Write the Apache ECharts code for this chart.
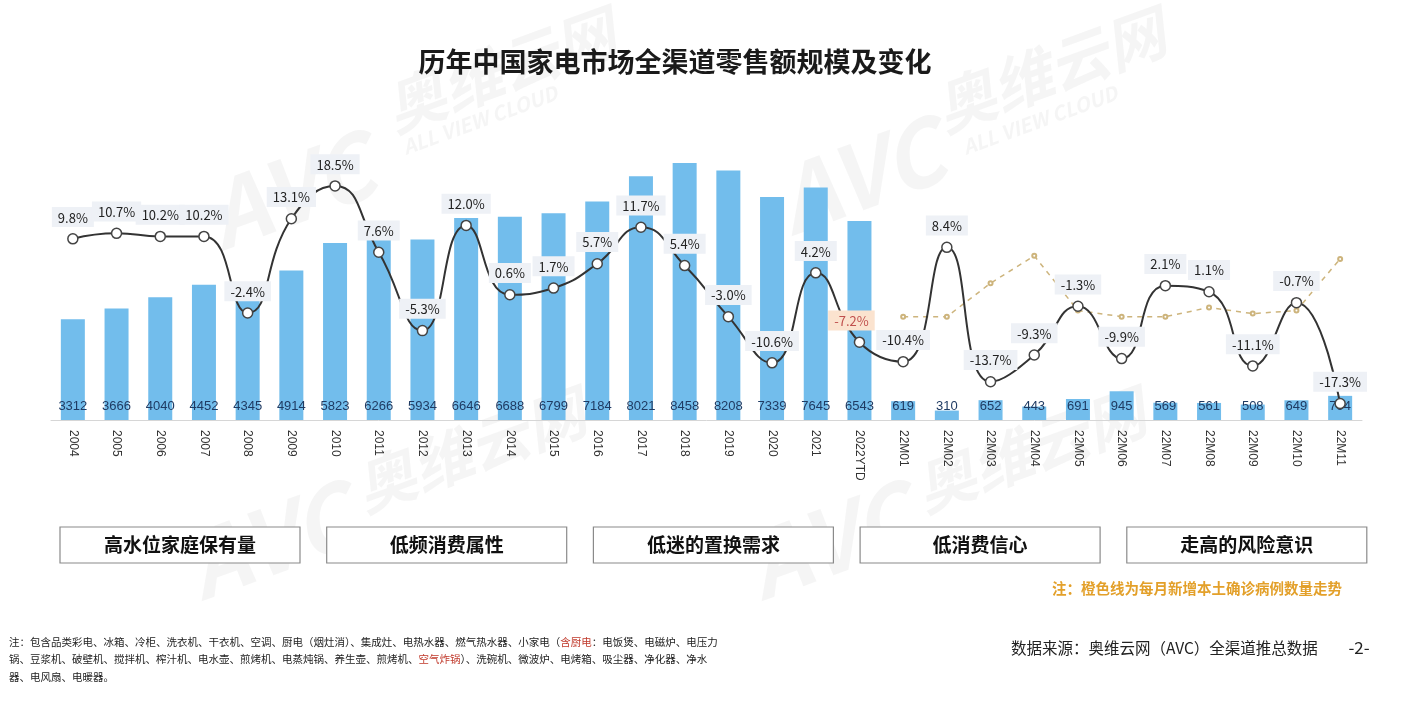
<!DOCTYPE html>
<html><head><meta charset="utf-8">
<script src="https://cdn.jsdelivr.net/npm/echarts@6/dist/echarts.min.js"></script>
<style>html,body{margin:0;padding:0;background:#fff}#c{width:1412px;height:704px}</style>
</head><body><div id="c"></div>
<script>
const categories = ['2004','2005','2006','2007','2008','2009','2010','2011','2012','2013','2014','2015','2016','2017','2018','2019','2020','2021','2022YTD',
  '22M01','22M02','22M03','22M04','22M05','22M06','22M07','22M08','22M09','22M10','22M11'];
const retailSales = [3312,3666,4040,4452,4345,4914,5823,6266,5934,6646,6688,6799,7184,8021,8458,8208,7339,7645,6543,
  619,310,652,443,691,945,569,561,508,649,794];
const growthRate = [9.8,10.7,10.2,10.2,-2.4,13.1,18.5,7.6,-5.3,12.0,0.6,1.7,5.7,11.7,5.4,-3.0,-10.6,4.2,-7.2,
  -10.4,8.4,-13.7,-9.3,-1.3,-9.9,2.1,1.1,-11.1,-0.7,-17.3];
const covidTrend = [null,null,null,null,null,null,null,null,null,null,null,null,null,null,null,null,null,null,null,
  34,34,45,54,36,34,34,37,35,36,53];
const boxTexts = ['高水位家庭保有量','低频消费属性','低迷的置换需求','低消费信心','走高的风险意识'];
const titleText = '历年中国家电市场全渠道零售额规模及变化';
const covidNote = '注：橙色线为每月新增本土确诊病例数量走势';
const sourceText = '数据来源：奥维云网（AVC）全渠道推总数据';
const pageNo = '-2-';

const CJK = '"Noto Sans CJK SC","Noto Sans",sans-serif';
const chart = echarts.init(document.getElementById('c'), null, {renderer:'canvas'});

const ytdIndex = categories.indexOf('2022YTD');
const lineData = growthRate.map((v,i)=> i===ytdIndex ? {value:v, label:{backgroundColor:'#fbe3cf', color:'#c0504d', offset:[-8,0]}} : v);

const graphics = [];
// watermarks
const wm = [
  {x:290,y:190,t:'AVC',s:90},{x:500,y:70,t:'奥维云网',s:60},{x:480,y:120,t:'ALL VIEW CLOUD',s:20},
  {x:860,y:175,t:'AVC',s:90},{x:1050,y:70,t:'奥维云网',s:60},{x:1040,y:120,t:'ALL VIEW CLOUD',s:20},
  {x:270,y:540,t:'AVC',s:90},{x:470,y:450,t:'奥维云网',s:60},{x:830,y:540,t:'AVC',s:90},{x:1030,y:450,t:'奥维云网',s:60}
];
wm.forEach(w=>graphics.push({type:'text', x:w.x, y:w.y, rotation:0.35, z:-10, silent:true,
  style:{text:w.t, fill:'rgba(190,190,190,0.16)', font:'italic bold '+w.s+'px '+CJK, textAlign:'center', textVerticalAlign:'middle'}}));
// boxes
boxTexts.forEach((t,i)=>{
  const x0 = 60 + i*266.7;
  graphics.push({type:'rect', shape:{x:x0, y:527, width:240, height:36},
    style:{fill:'#fff', stroke:'#8a8a8a', lineWidth:1.2}, z:5});
  graphics.push({type:'text', x:x0+120, y:545, z:6,
    style:{text:t, fill:'#111', font:'bold 19px '+CJK, textAlign:'center', textVerticalAlign:'middle'}});
});
graphics.push({type:'text', x:675, y:62, style:{text:titleText, fill:'#1a1a1a', font:'bold 27px '+CJK, textAlign:'center', textVerticalAlign:'middle'}});
graphics.push({type:'text', x:1197, y:588, style:{text:covidNote, fill:'#e3a02a', font:'bold 14.5px '+CJK, textAlign:'center', textVerticalAlign:'middle'}});
graphics.push({type:'text', x:1011, y:648, style:{text:sourceText, fill:'#222', font:'15.5px '+CJK, textAlign:'left', textVerticalAlign:'middle'}});
graphics.push({type:'text', x:1359, y:648, style:{text:pageNo, fill:'#222', font:'17px '+CJK, textAlign:'center', textVerticalAlign:'middle'}});
graphics.push({type:'text', x:9, y:633, style:{
  text:'注：包含品类彩电、冰箱、冷柜、洗衣机、干衣机、空调、厨电（烟灶消）、集成灶、电热水器、燃气热水器、小家电（{r|含厨电}：电饭煲、电磁炉、电压力\n锅、豆浆机、破壁机、搅拌机、榨汁机、电水壶、煎烤机、电蒸炖锅、养生壶、煎烤机、{r|空气炸锅}）、洗碗机、微波炉、电烤箱、吸尘器、净化器、净水\n器、电风扇、电暖器。',
  fill:'#222', font:'10.5px '+CJK, lineHeight:17.5,
  rich:{r:{fill:'#c0392b', font:'10.5px '+CJK}}}});

chart.setOption({
  backgroundColor:'#fff',
  animation:false,
  grid:{left:51, right:50, top:116, bottom:284},
  xAxis:{type:'category', data:categories, boundaryGap:true,
    axisLine:{lineStyle:{color:'#d6d6d6'}}, axisTick:{show:false},
    axisLabel:{rotate:-90, interval:0, color:'#333', fontSize:12, fontFamily:'"Liberation Sans",sans-serif', margin:10}},
  yAxis:[
    {type:'value', min:0, max:10000, show:false, splitLine:{show:false}},
    {type:'value', min:-20, max:30, show:false, splitLine:{show:false}},
    {type:'value', min:0, max:100, show:false, splitLine:{show:false}}
  ],
  series:[
    {type:'bar', data:retailSales, yAxisIndex:0, barWidth:24,
      itemStyle:{color:'#72bdec'},
      label:{show:true, position:'insideBottom', distance:7, color:'#1f3b63', fontSize:13, fontFamily:'"Liberation Sans",sans-serif'}},
    {type:'line', data:covidTrend, yAxisIndex:2, smooth:false, connectNulls:false,
      lineStyle:{color:'#cdb47c', width:1.5, type:[5,5]}, symbol:'emptyCircle', symbolSize:4,
      itemStyle:{color:'#cdb47c'}, z:3},
    {type:'line', data:lineData, yAxisIndex:1, smooth:0.5,
      lineStyle:{color:'#333', width:2}, symbol:'circle', symbolSize:10,
      itemStyle:{color:'#fff', borderColor:'#444', borderWidth:1.5}, z:4,
      label:{show:true, position:'top', distance:6, formatter:p=>p.value.toFixed(1)+'%',
        color:'#222', fontSize:13, fontFamily:CJK, backgroundColor:'#eef1f6', padding:[4,6,3,6]}}
  ],
  graphic:graphics
});
</script></body></html>
